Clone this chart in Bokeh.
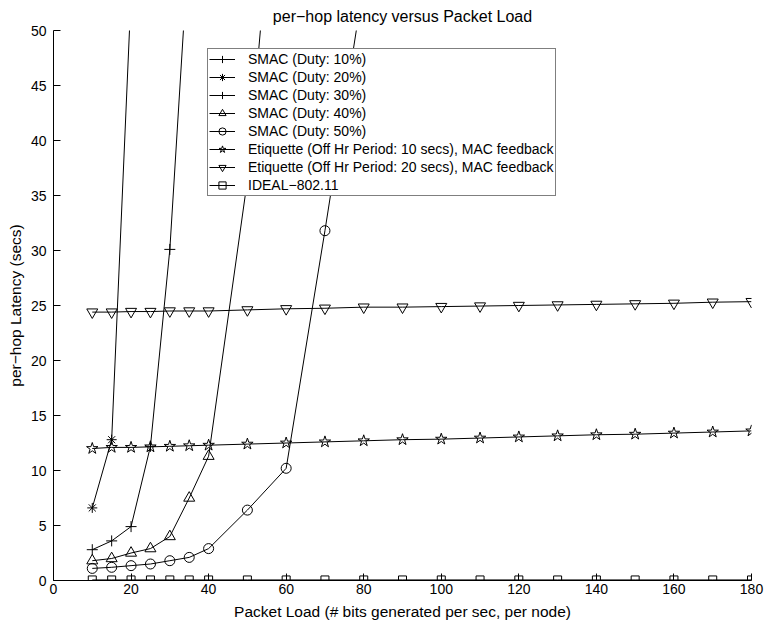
from bokeh.plotting import figure
from bokeh.models import Range1d, Legend, LegendItem, FixedTicker
from bokeh.embed import file_html
from bokeh.resources import INLINE

FONT = "Liberation Sans"

# ---- data ----
x_smac10 = [10, 15, 20]
y_smac10 = [65, 120, 200]

x_smac20 = [10, 15, 20]
y_smac20 = [6.6, 12.8, 53.3]

x_smac30 = [10, 15, 20, 25, 30, 35]
y_smac30 = [2.8, 3.6, 4.9, 12.2, 30.1, 58.5]

x_smac40 = [10, 15, 20, 25, 30, 35, 40, 50, 60]
y_smac40 = [1.8, 2.0, 2.5, 2.9, 4.0, 7.5, 11.3, 36.4, 77]

x_smac50 = [10, 15, 20, 25, 30, 35, 40, 50, 60, 70, 80]
y_smac50 = [1.1, 1.2, 1.35, 1.5, 1.8, 2.1, 2.9, 6.4, 10.2, 31.8, 54.3]

x_etq = [10, 15, 20, 25, 30, 35, 40, 50, 60, 70, 80, 90, 100, 110, 120, 130, 140, 150, 160, 170, 180]
y_etq10 = [12.0, 12.1, 12.1, 12.15, 12.2, 12.25, 12.3, 12.4, 12.5, 12.6, 12.7, 12.8, 12.85,
           12.95, 13.05, 13.15, 13.25, 13.3, 13.4, 13.5, 13.6]
y_etq20 = [24.4, 24.4, 24.45, 24.45, 24.5, 24.5, 24.5, 24.6, 24.7, 24.75, 24.85, 24.85, 24.9,
           24.95, 25.0, 25.05, 25.1, 25.15, 25.2, 25.3, 25.35]

x_ideal = x_etq
y_ideal = [0.05] * len(x_ideal)

x_ticks = [0, 20, 40, 60, 80, 100, 120, 140, 160, 180]
y_ticks = [0, 5, 10, 15, 20, 25, 30, 35, 40, 45, 50]

title_text = "per\u2212hop latency versus Packet Load"
x_label = "Packet Load (# bits generated per sec, per node)"
y_label = "per\u2212hop Latency (secs)"

series = [
    ("SMAC (Duty: 10%)", x_smac10, y_smac10, "cross", 11),
    ("SMAC (Duty: 20%)", x_smac20, y_smac20, "asterisk", 10),
    ("SMAC (Duty: 30%)", x_smac30, y_smac30, "cross", 11),
    ("SMAC (Duty: 40%)", x_smac40, y_smac40, "triangle", 11),
    ("SMAC (Duty: 50%)", x_smac50, y_smac50, "circle", 10),
    ("Etiquette (Off Hr Period: 10 secs), MAC feedback", x_etq, y_etq10, "star", 12),
    ("Etiquette (Off Hr Period: 20 secs), MAC feedback", x_etq, y_etq20, "inverted_triangle", 11),
    ("IDEAL\u2212802.11", x_ideal, y_ideal, "square", 8),
]

p = figure(width=764, height=623, output_backend="svg", toolbar_location=None,
           x_range=Range1d(0, 180), y_range=Range1d(0, 50),
           min_border_left=53, min_border_right=13, min_border_top=30, min_border_bottom=43)
p.outline_line_color = None
p.grid.visible = False
p.background_fill_color = "white"
p.border_fill_color = "white"

p.title.text = title_text
p.title.align = "center"
p.title.vertical_align = "top"
p.title.text_font = FONT
p.title.text_font_size = "16px"
p.title.text_font_style = "normal"
p.title.text_color = "black"
p.title.standoff = 8

p.xaxis.ticker = FixedTicker(ticks=x_ticks)
p.yaxis.ticker = FixedTicker(ticks=y_ticks)
for ax in (p.xaxis[0], p.yaxis[0]):
    ax.major_tick_in = 7
    ax.major_tick_out = 0
    ax.minor_tick_in = 0
    ax.minor_tick_out = 0
    ax.axis_line_color = "black"
    ax.major_tick_line_color = "black"
    ax.major_label_text_font = FONT
    ax.major_label_text_font_size = "14px"
    ax.major_label_text_color = "black"
    ax.axis_label_text_font = FONT
    ax.axis_label_text_font_size = "15.5px"
    ax.axis_label_text_font_style = "normal"
    ax.axis_label_text_color = "black"

p.xaxis.axis_label = x_label
p.yaxis.axis_label = y_label
p.xaxis.major_label_standoff = 3
p.xaxis.axis_label_standoff = 6
p.yaxis.major_label_standoff = 7
p.yaxis.axis_label_standoff = 4

items = []
for name, xs, ys, marker, size in series:
    lr = p.line(xs, ys, line_color="black", line_width=1)
    sr = p.scatter(xs, ys, marker=marker, size=size, line_color="black",
                   line_width=1, fill_color=None)
    items.append(LegendItem(label=name, renderers=[lr, sr]))

legend = Legend(items=items, location=(154, 384),
                label_text_font=FONT, label_text_font_size="14px",
                label_text_color="black",
                label_height=18, glyph_height=18, glyph_width=26,
                spacing=0, padding=1, label_standoff=13, margin=0,
                border_line_color="black", border_line_width=1,
                background_fill_color="white", background_fill_alpha=1.0)
p.add_layout(legend, "center")

open("out.html", "w").write(file_html(p, INLINE))
